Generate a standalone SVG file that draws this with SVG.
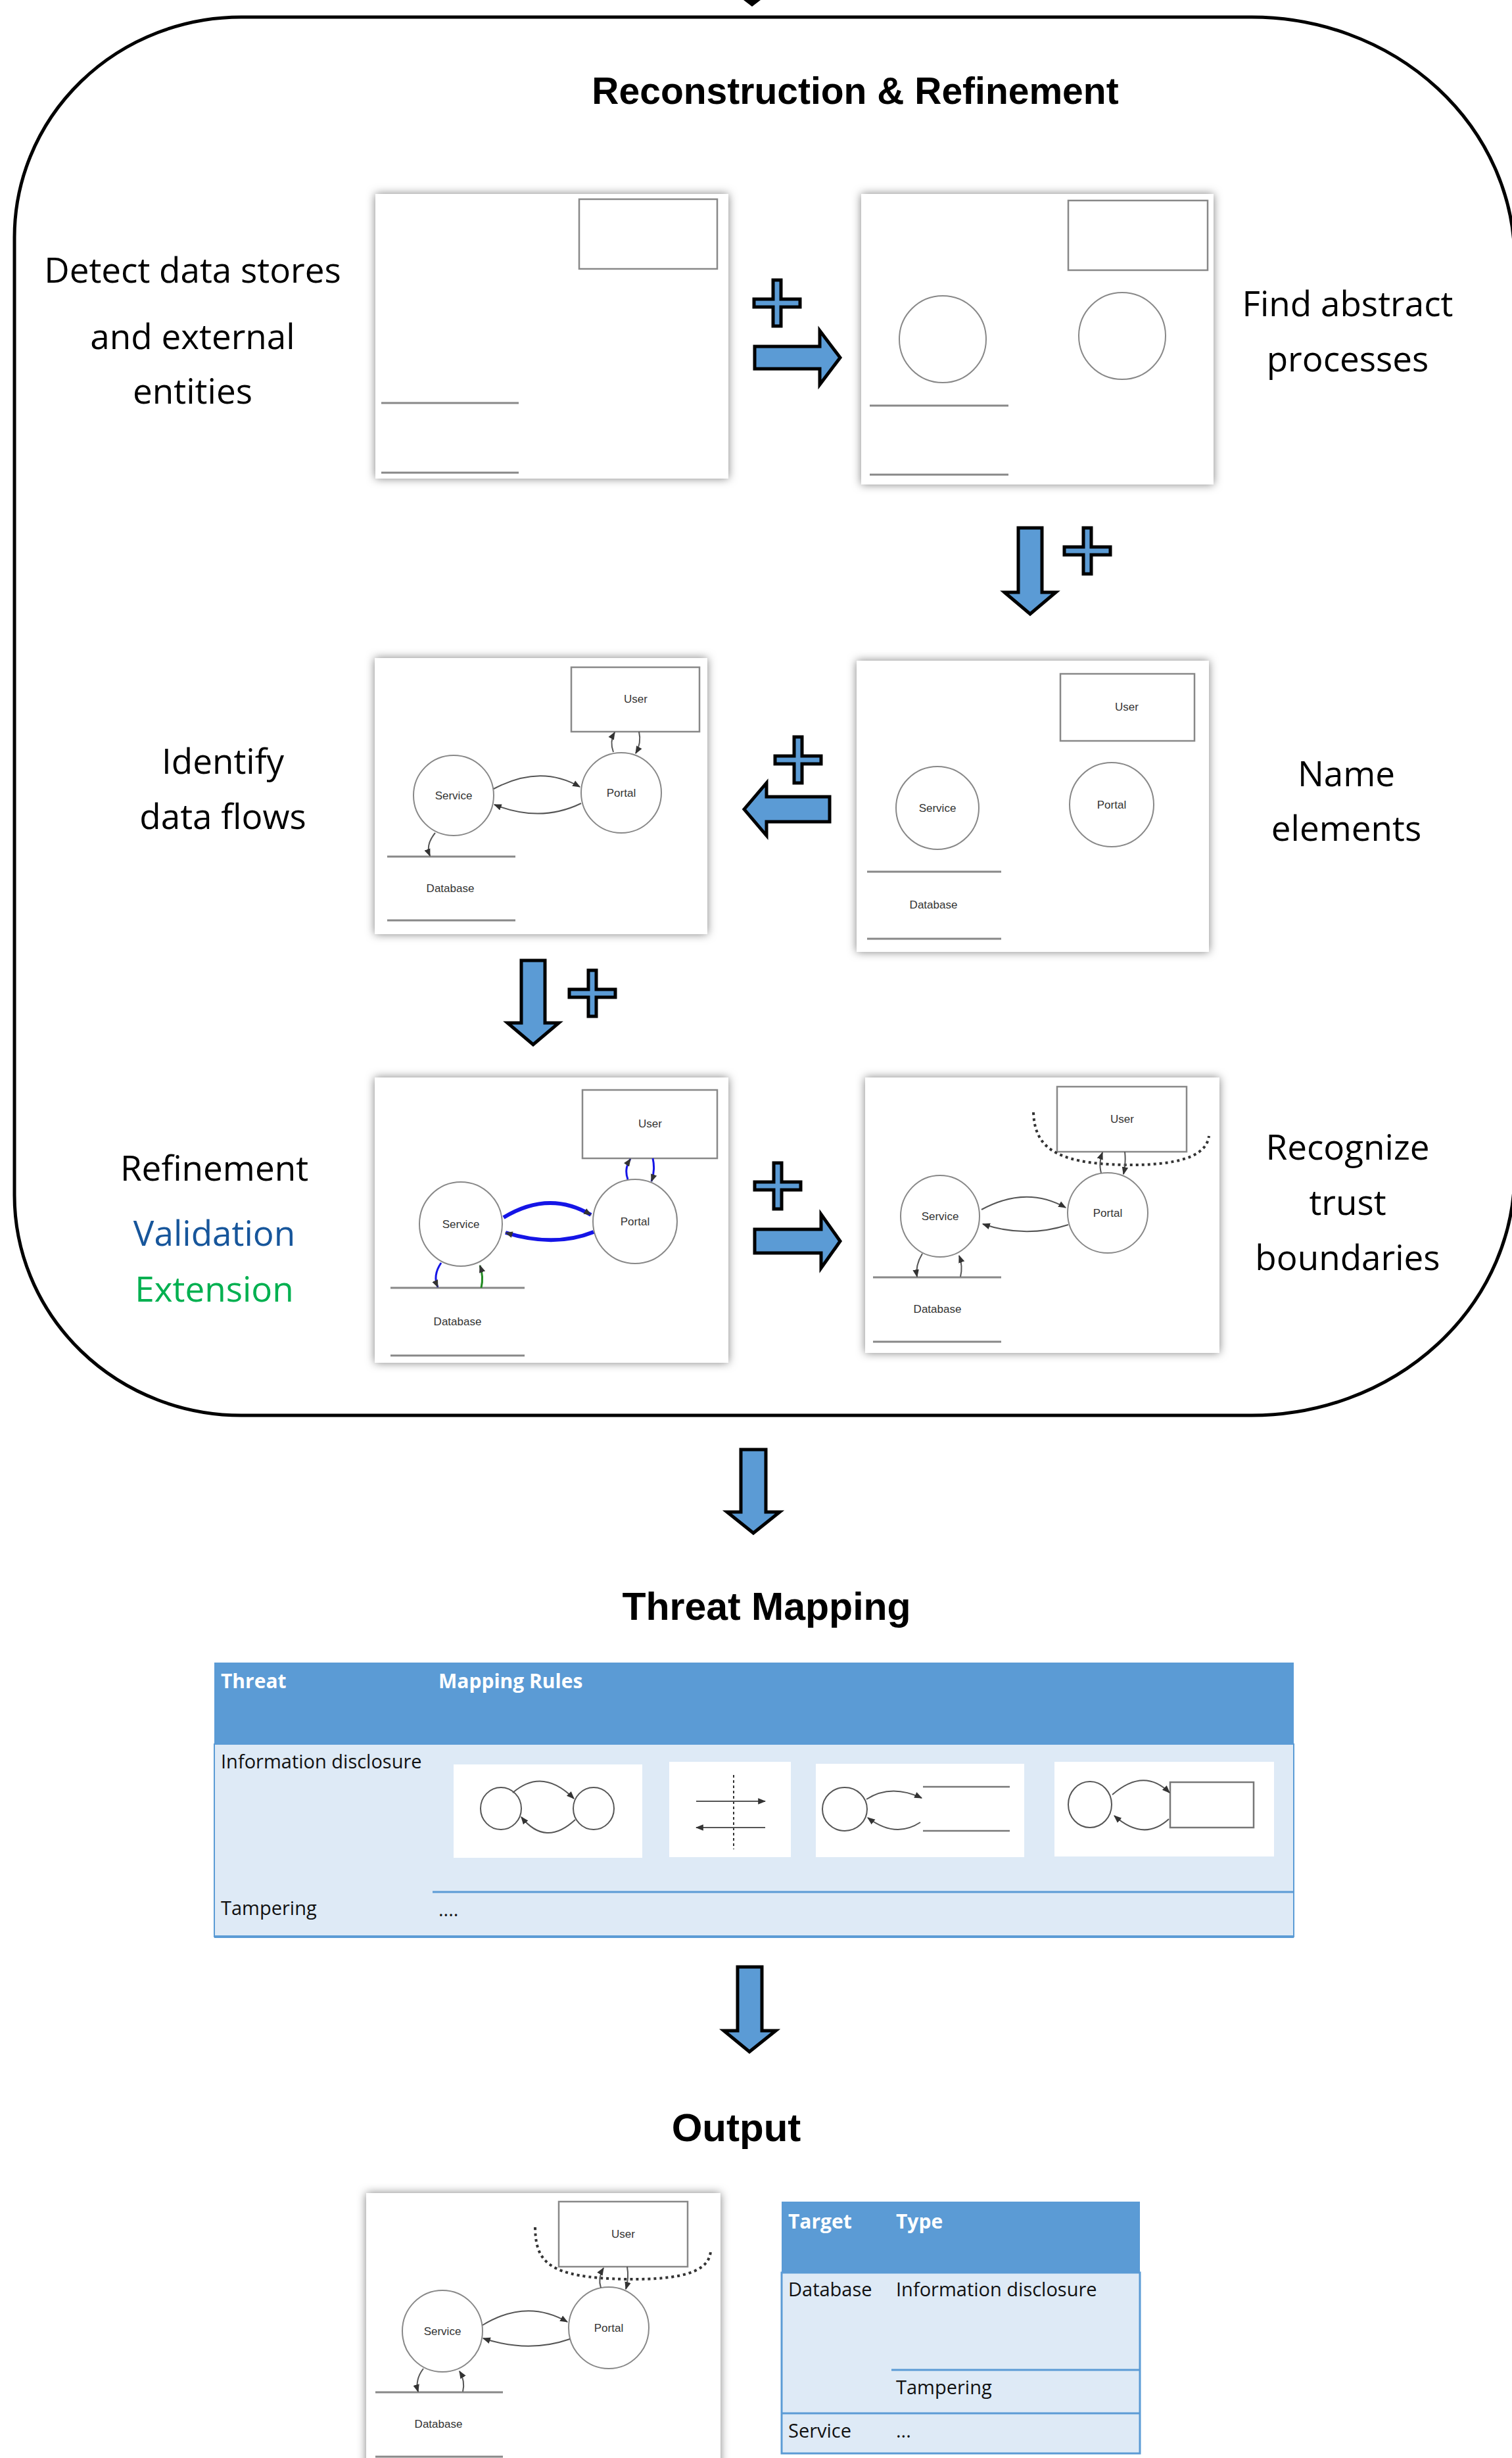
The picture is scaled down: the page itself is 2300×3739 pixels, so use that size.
<svg xmlns="http://www.w3.org/2000/svg" width="2300" height="3739" viewBox="0 0 2300 3739">
<defs>
<filter id="sh" x="-10%" y="-10%" width="120%" height="120%">
<feDropShadow dx="0" dy="0" stdDeviation="7" flood-color="#000" flood-opacity="0.5"/>
</filter>
<marker id="ah" viewBox="0 0 10 10" refX="9" refY="5" markerWidth="12" markerHeight="12" markerUnits="userSpaceOnUse" orient="auto">
<path d="M0,1 L10,5 L0,9 Z" fill="#333"/>
</marker>
<path id="plus" d="M-6,-35 H6 V-6 H35 V6 H6 V35 H-6 V6 H-35 V-6 H-6 Z"/>
</defs>
<style>
.lbl{font-family:"Open Sans","Noto Sans",sans-serif;font-size:53px;text-anchor:middle;fill:#000}
.ttl{font-family:"Liberation Sans",Arial,sans-serif;font-weight:bold;text-anchor:middle;fill:#000}
.nt{font-family:"Liberation Sans",Arial,sans-serif;font-size:17px;fill:#333;text-anchor:middle}
.panel{fill:#fff;filter:url(#sh)}
.ent{fill:#fff;stroke:#888;stroke-width:2.5}
.proc{fill:#fff;stroke:#888;stroke-width:2}
.ds{stroke:#888;stroke-width:3}
.flow{fill:none;stroke:#555;stroke-width:2;marker-end:url(#ah)}
.bflow{fill:none;stroke:#1515e6;marker-end:url(#ah)}
.blue{fill:#5B9BD5;stroke:#000;stroke-width:5;stroke-linejoin:miter}
.bnd{fill:none;stroke:#333;stroke-width:4;stroke-dasharray:4 5}
.th{font-family:"Open Sans","Noto Sans",sans-serif;font-size:30px;font-weight:bold;fill:#fff}
.td{font-family:"Open Sans","Noto Sans",sans-serif;font-size:29px;fill:#111}
.tline{stroke:#5B9BD5;stroke-width:3}
</style>

<rect width="2300" height="3739" fill="#fff"/>

<g id="container">
<path d="M367,26 H1904 A400,370 0 0 1 2304,396 V1783 A400,370 0 0 1 1904,2153 H367 A345,335 0 0 1 22,1818 V361 A345,335 0 0 1 367,26 Z" fill="none" stroke="#000" stroke-width="5"/>
</g>

<g id="titles">
<text class="ttl" x="1301" y="158" font-size="57">Reconstruction &amp; Refinement</text>
<text class="ttl" x="1166" y="2464" font-size="59">Threat Mapping</text>
<text class="ttl" x="1120" y="3257" font-size="60">Output</text>
</g>

<g id="labels">
<text class="lbl" x="293" y="430">Detect data stores</text>
<text class="lbl" x="293" y="531">and external</text>
<text class="lbl" x="293" y="614">entities</text>
<text class="lbl" x="2050" y="481">Find abstract</text>
<text class="lbl" x="2050" y="565">processes</text>
<text class="lbl" x="339" y="1177">Identify</text>
<text class="lbl" x="339" y="1261">data flows</text>
<text class="lbl" x="2048" y="1196">Name</text>
<text class="lbl" x="2048" y="1279">elements</text>
<text class="lbl" x="326" y="1796">Refinement</text>
<text class="lbl" x="326" y="1895" style="fill:#17569b">Validation</text>
<text class="lbl" x="326" y="1980" style="fill:#00B050">Extension</text>
<text class="lbl" x="2050" y="1764">Recognize</text>
<text class="lbl" x="2050" y="1848">trust</text>
<text class="lbl" x="2050" y="1932">boundaries</text>
</g>

<!-- Panel 1: detect data stores -->
<g id="panel-detect">
<rect class="panel" x="571" y="295" width="537" height="433"/>
<rect class="ent" x="881" y="303" width="210" height="106"/>
<line class="ds" x1="580" y1="613" x2="789" y2="613"/>
<line class="ds" x1="580" y1="719" x2="789" y2="719"/>
</g>

<!-- Panel 2: find processes -->
<g id="panel-processes">
<rect class="panel" x="1310" y="295" width="536" height="442"/>
<rect class="ent" x="1625" y="305" width="212" height="106"/>
<ellipse class="proc" cx="1434" cy="516" rx="66" ry="66"/>
<ellipse class="proc" cx="1707" cy="511" rx="66" ry="66"/>
<line class="ds" x1="1323" y1="617" x2="1534" y2="617"/>
<line class="ds" x1="1323" y1="722" x2="1534" y2="722"/>
</g>

<!-- Panel 3: identify data flows -->
<g id="panel-flows">
<rect class="panel" x="570" y="1001" width="506" height="420"/>
<g id="p3-user"><rect class="ent" x="869" y="1015" width="195" height="98"/><text class="nt" x="967" y="1069">User</text></g>
<g id="p3-service"><ellipse class="proc" cx="690" cy="1210" rx="61" ry="61"/><text class="nt" x="690" y="1216">Service</text></g>
<g id="p3-portal"><ellipse class="proc" cx="945" cy="1206" rx="61" ry="61"/><text class="nt" x="945" y="1212">Portal</text></g>
<g id="p3-db"><line class="ds" x1="589" y1="1303" x2="784" y2="1303"/><line class="ds" x1="589" y1="1400" x2="784" y2="1400"/><text class="nt" x="685" y="1357">Database</text></g>
<g id="p3-connectors">
<path class="flow" d="M751,1200 Q822,1162 882,1197"/>
<path class="flow" d="M884,1222 Q822,1252 752,1224"/>
<path class="flow" d="M933,1144 Q927,1128 935,1114"/>
<path class="flow" d="M972,1113 Q976,1130 967,1146"/>
<path class="flow" d="M662,1267 Q647,1285 654,1302"/>
</g>
</g>

<!-- Panel 4: name elements -->
<g id="panel-names">
<rect class="panel" x="1303" y="1005" width="536" height="443"/>
<g id="p4-user"><rect class="ent" x="1613" y="1025" width="204" height="102"/><text class="nt" x="1714" y="1081">User</text></g>
<g id="p4-service"><ellipse class="proc" cx="1426" cy="1229" rx="63" ry="63"/><text class="nt" x="1426" y="1235">Service</text></g>
<g id="p4-portal"><ellipse class="proc" cx="1691" cy="1224" rx="64" ry="64"/><text class="nt" x="1691" y="1230">Portal</text></g>
<g id="p4-db"><line class="ds" x1="1319" y1="1326" x2="1523" y2="1326"/><line class="ds" x1="1319" y1="1428" x2="1523" y2="1428"/><text class="nt" x="1420" y="1382">Database</text></g>
</g>

<!-- Panel 5: refinement -->
<g id="panel-refine">
<rect class="panel" x="570" y="1639" width="538" height="434"/>
<g id="p5-user"><rect class="ent" x="886" y="1658" width="205" height="104"/><text class="nt" x="989" y="1715">User</text></g>
<g id="p5-service"><ellipse class="proc" cx="701" cy="1862" rx="63" ry="64"/><text class="nt" x="701" y="1868">Service</text></g>
<g id="p5-portal"><ellipse class="proc" cx="966" cy="1858" rx="64" ry="64"/><text class="nt" x="966" y="1864">Portal</text></g>
<g id="p5-db"><line class="ds" x1="594" y1="1959" x2="798" y2="1959"/><line class="ds" x1="594" y1="2062" x2="798" y2="2062"/><text class="nt" x="696" y="2016">Database</text></g>
<g id="p5-connectors">
<path class="bflow" stroke-width="6" d="M766,1852 Q835,1810 899,1848"/>
<path class="bflow" stroke-width="6" d="M903,1874 Q843,1898 769,1875"/>
<path class="bflow" stroke-width="3" d="M955,1794 Q949,1778 959,1763"/>
<path class="bflow" stroke-width="3" d="M993,1762 Q997,1780 991,1797"/>
<path class="bflow" stroke-width="3" d="M671,1921 Q658,1940 666,1958"/>
<path class="flow" style="stroke:#228B22;stroke-width:3" d="M732,1959 Q736,1942 730,1925"/>
</g>
</g>

<!-- Panel 6: trust boundaries -->
<g id="panel-trust">
<rect class="panel" x="1316" y="1639" width="539" height="419"/>
<g id="p6-user"><rect class="ent" x="1608" y="1653" width="197" height="99"/><text class="nt" x="1707" y="1708">User</text></g>
<g id="p6-service"><ellipse class="proc" cx="1430" cy="1850" rx="60" ry="62"/><text class="nt" x="1430" y="1856">Service</text></g>
<g id="p6-portal"><ellipse class="proc" cx="1685" cy="1845" rx="61" ry="61"/><text class="nt" x="1685" y="1851">Portal</text></g>
<g id="p6-db"><line class="ds" x1="1328" y1="1943" x2="1523" y2="1943"/><line class="ds" x1="1328" y1="2041" x2="1523" y2="2041"/><text class="nt" x="1426" y="1997">Database</text></g>
<path class="bnd" d="M1572,1692 C1574,1742 1600,1770 1711,1772 C1790,1773 1835,1760 1839,1728"/>
<g id="p6-connectors">
<path class="flow" d="M1493,1840 Q1561,1803 1621,1837"/>
<path class="flow" d="M1625,1863 Q1561,1884 1495,1862"/>
<path class="flow" d="M1675,1784 Q1671,1769 1677,1753"/>
<path class="flow" d="M1711,1752 Q1713,1769 1709,1786"/>
<path class="flow" d="M1403,1907 Q1392,1925 1395,1942"/>
<path class="flow" d="M1461,1942 Q1465,1926 1459,1910"/>
</g>
</g>

<!-- step connectors -->
<g id="connectors">
<polygon points="1131,0 1157,0 1144,10" fill="#000"/>
<path class="blue" d="M1148,527 H1247 V503 L1278,544 L1247,585 V561 H1148 Z"/>
<use href="#plus" class="blue" transform="translate(1182,461)"/>
<path class="blue" d="M1549,803 H1585 V901 H1606 L1567,934 L1528,901 H1549 Z"/>
<use href="#plus" class="blue" transform="translate(1654,838)"/>
<path class="blue" d="M1262,1212 V1250 H1166 V1271 L1132,1231 L1166,1191 V1212 Z"/>
<use href="#plus" class="blue" transform="translate(1214,1156)"/>
<path class="blue" d="M793,1461 H829 V1556 H850 L811,1589 L772,1556 H793 Z"/>
<use href="#plus" class="blue" transform="translate(901,1511)"/>
<path class="blue" d="M1148,1870 H1249 V1847 L1278,1888 L1249,1929 V1906 H1148 Z"/>
<use href="#plus" class="blue" transform="translate(1183,1804)"/>
<path class="blue" d="M1127,2205 H1165 V2300 H1186 L1146,2332 L1106,2300 H1127 Z"/>
<path class="blue" d="M1122,2992 H1159 V3089 H1180 L1140,3121 L1101,3089 H1122 Z"/>
</g>

<!-- Threat mapping table -->
<g id="threat-table">
<rect x="326" y="2653" width="1642" height="293" fill="#DEEAF6" stroke="#5B9BD5" stroke-width="2"/>
<rect x="326" y="2529" width="1642" height="124" fill="#5B9BD5"/>
<line class="tline" x1="658" y1="2878" x2="1968" y2="2878"/>
<line x1="326" y1="2946" x2="1968" y2="2946" stroke="#5B9BD5" stroke-width="4"/>
<text class="th" x="336" y="2568">Threat</text>
<text class="th" x="667" y="2568">Mapping Rules</text>
<text class="td" x="336" y="2690">Information disclosure</text>
<text class="td" x="336" y="2913">Tampering</text>
<text class="td" x="667" y="2915">....</text>
<g id="rule1">
<rect x="690" y="2684" width="287" height="142" fill="#fff"/>
<ellipse cx="762" cy="2751" rx="31" ry="32" fill="none" stroke="#555" stroke-width="2"/>
<ellipse cx="903" cy="2751" rx="31" ry="32" fill="none" stroke="#555" stroke-width="2"/>
<path class="flow" d="M780,2727 Q825,2688 873,2736"/>
<path class="flow" d="M875,2768 Q830,2810 793,2764"/>
</g>
<g id="rule2">
<rect x="1018" y="2680" width="185" height="145" fill="#fff"/>
<line x1="1116" y1="2700" x2="1116" y2="2813" stroke="#333" stroke-width="2" stroke-dasharray="4 4"/>
<path class="flow" d="M1059,2740 H1164"/>
<path class="flow" d="M1164,2780 H1059"/>
</g>
<g id="rule3">
<rect x="1241" y="2683" width="317" height="142" fill="#fff"/>
<ellipse cx="1285" cy="2752" rx="34" ry="33" fill="none" stroke="#555" stroke-width="2"/>
<line x1="1404" y1="2718" x2="1536" y2="2718" stroke="#777" stroke-width="2.5"/>
<line x1="1404" y1="2785" x2="1536" y2="2785" stroke="#777" stroke-width="2.5"/>
<path class="flow" d="M1318,2737 Q1355,2713 1402,2735"/>
<path class="flow" d="M1400,2772 Q1362,2797 1320,2765"/>
</g>
<g id="rule4">
<rect x="1604" y="2680" width="334" height="144" fill="#fff"/>
<ellipse cx="1658" cy="2745" rx="33" ry="35" fill="none" stroke="#555" stroke-width="2"/>
<rect x="1780" y="2711" width="127" height="69" fill="none" stroke="#777" stroke-width="2.5"/>
<path class="flow" d="M1692,2730 Q1740,2688 1779,2727"/>
<path class="flow" d="M1778,2767 Q1740,2802 1695,2762"/>
</g>
</g>

<!-- Output panel -->
<g id="panel-output">
<rect class="panel" x="557" y="3336" width="539" height="420"/>
<g id="o-user"><rect class="ent" x="850" y="3349" width="196" height="99"/><text class="nt" x="948" y="3404">User</text></g>
<g id="o-service"><ellipse class="proc" cx="673" cy="3546" rx="61" ry="62"/><text class="nt" x="673" y="3552">Service</text></g>
<g id="o-portal"><ellipse class="proc" cx="926" cy="3541" rx="61" ry="62"/><text class="nt" x="926" y="3547">Portal</text></g>
<g id="o-db"><line class="ds" x1="571" y1="3639" x2="765" y2="3639"/><line class="ds" x1="571" y1="3737" x2="765" y2="3737"/><text class="nt" x="667" y="3693">Database</text></g>
<path class="bnd" d="M814,3388 C815,3440 832,3465 954,3467 C1040,3468 1078,3455 1081,3425"/>
<g id="o-connectors">
<path class="flow" d="M734,3537 Q801,3496 863,3532"/>
<path class="flow" d="M867,3558 Q804,3580 735,3557"/>
<path class="flow" d="M914,3480 Q909,3465 918,3450"/>
<path class="flow" d="M954,3448 Q957,3465 952,3482"/>
<path class="flow" d="M644,3603 Q631,3620 636,3638"/>
<path class="flow" d="M704,3638 Q708,3622 699,3607"/>
</g>
</g>

<!-- Output table -->
<g id="output-table">
<rect x="1189" y="3457" width="545" height="275" fill="#DEEAF6" stroke="#5B9BD5" stroke-width="3"/>
<rect x="1189" y="3349" width="545" height="108" fill="#5B9BD5"/>
<line class="tline" x1="1356" y1="3605" x2="1734" y2="3605"/>
<line class="tline" x1="1189" y1="3671" x2="1734" y2="3671"/>
<text class="th" x="1199" y="3390">Target</text>
<text class="th" x="1363" y="3390">Type</text>
<text class="td" x="1199" y="3493">Database</text>
<text class="td" x="1363" y="3493">Information disclosure</text>
<text class="td" x="1363" y="3642">Tampering</text>
<text class="td" x="1199" y="3708">Service</text>
<text class="td" x="1363" y="3708">...</text>
</g>
</svg>
